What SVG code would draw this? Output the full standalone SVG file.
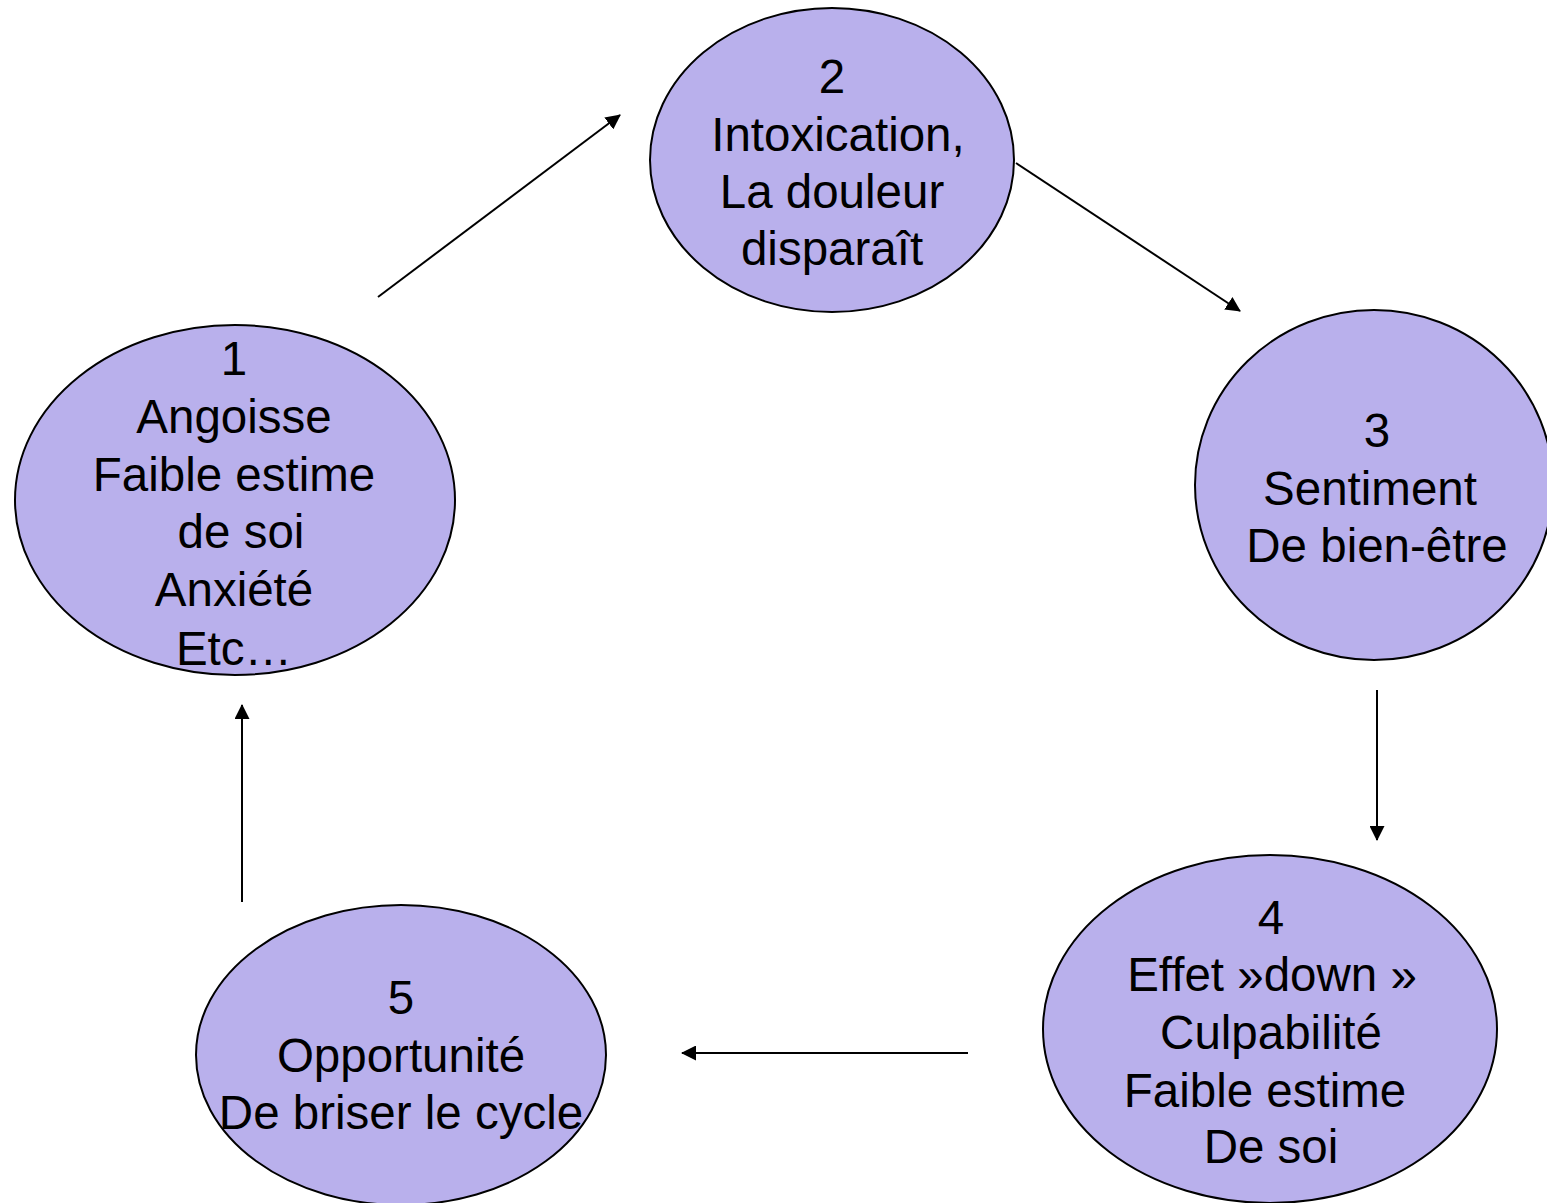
<svg xmlns="http://www.w3.org/2000/svg" width="1547" height="1203" viewBox="0 0 1547 1203">
<style>
.n{fill:#b9b0ec;stroke:#000;stroke-width:2}
.t{font-family:"Liberation Sans",Arial,sans-serif;font-size:47.5px;fill:#000;text-anchor:middle}
.c{stroke:#000;stroke-width:2;fill:none;marker-end:url(#ah)}
</style>
<defs>
<marker id="ah" viewBox="0 0 15 15" refX="14" refY="7.5" markerWidth="15" markerHeight="15" markerUnits="userSpaceOnUse" orient="auto">
<path d="M0,0 L15,7.5 L0,15 z" fill="#000"/>
</marker>
</defs>
<rect width="1547" height="1203" fill="#fff"/>
<g id="connectors">
<line class="c" x1="378" y1="297" x2="620" y2="115"/>
<line class="c" x1="1016" y1="163" x2="1240" y2="311"/>
<line class="c" x1="1377" y1="690" x2="1377" y2="840"/>
<line class="c" x1="968" y1="1053" x2="682" y2="1053"/>
<line class="c" x1="242" y1="902" x2="242" y2="705"/>
</g>
<g id="node1">
<ellipse class="n" cx="235" cy="500" rx="220" ry="175"/>
<text class="t" x="234" y="375">1</text>
<text class="t" x="234" y="433">Angoisse</text>
<text class="t" x="234" y="491">Faible estime</text>
<text class="t" x="241" y="548">de soi</text>
<text class="t" x="234" y="606">Anxiété</text>
<text class="t" x="234" y="665">Etc…</text>
</g>
<g id="node2">
<ellipse class="n" cx="832" cy="160" rx="182" ry="152"/>
<text class="t" x="832" y="93">2</text>
<text class="t" x="838" y="151">Intoxication,</text>
<text class="t" x="832" y="208">La douleur</text>
<text class="t" x="832" y="265">disparaît</text>
</g>
<g id="node3">
<ellipse class="n" cx="1374" cy="485" rx="179" ry="175"/>
<text class="t" x="1377" y="447">3</text>
<text class="t" x="1370" y="505">Sentiment</text>
<text class="t" x="1377" y="562">De bien-être</text>
</g>
<g id="node4">
<ellipse class="n" cx="1270" cy="1029" rx="227" ry="174"/>
<text class="t" x="1271" y="934">4</text>
<text class="t" x="1272" y="991">Effet »down »</text>
<text class="t" x="1271" y="1049">Culpabilité</text>
<text class="t" x="1265" y="1107">Faible estime</text>
<text class="t" x="1271" y="1163">De soi</text>
</g>
<g id="node5">
<ellipse class="n" cx="401" cy="1055" rx="205" ry="150"/>
<text class="t" x="401" y="1014">5</text>
<text class="t" x="401" y="1072">Opportunité</text>
<text class="t" x="401" y="1129">De briser le cycle</text>
</g>
</svg>
